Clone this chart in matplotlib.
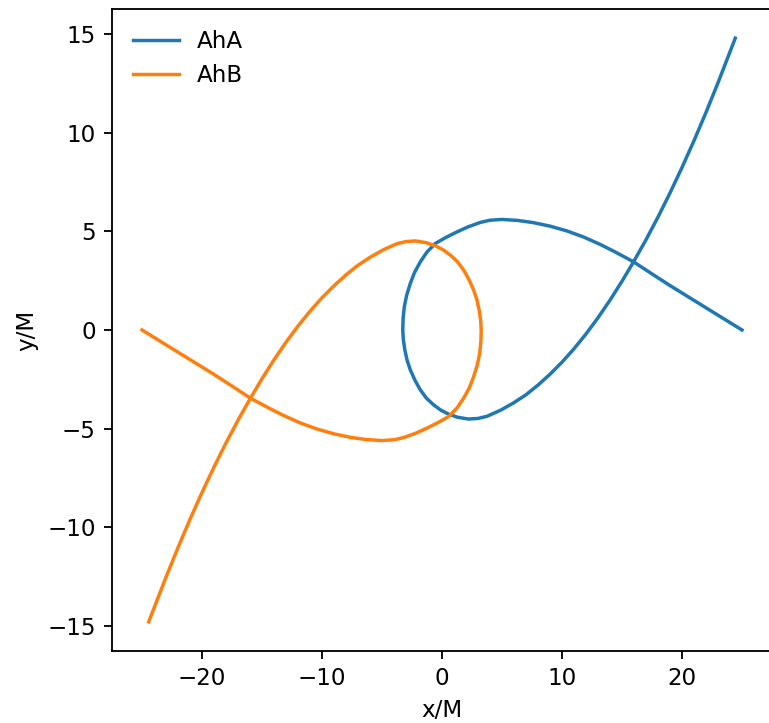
import matplotlib
matplotlib.use("Agg")
import matplotlib.pyplot as plt

# trajectory of horizon A (units of M)
aha_x = [25.0, 23.0, 21.0, 19.0, 17.5, 15.97, 14.5, 13.2, 11.8, 10.4, 9.0, 7.6,
         6.3, 5.0, 4.0, 3.2, 2.2, 1.25, 0.3, -0.56, -1.25, -1.81, -2.3, -2.64,
         -2.95, -3.14, -3.24, -3.27, -3.22, -3.1, -2.9, -2.64, -2.25, -1.81, -1.3,
         -0.7, -0.1, 0.55, 1.3, 2.2, 3.0, 3.75, 4.86, 5.97, 7.0, 8.0, 9.0, 10.0,
         11.0, 12.0, 13.0, 14.0, 15.0, 15.97, 17.0, 18.0, 19.0, 20.0,
         21.0, 22.0, 23.0, 24.0, 24.44]
aha_y = [0.0, 0.75, 1.5, 2.25, 2.84, 3.45, 3.93, 4.33, 4.71, 5.02, 5.26, 5.44,
         5.55, 5.6, 5.56, 5.45, 5.23, 4.97, 4.68, 4.38, 3.95, 3.45, 2.9, 2.36,
         1.75, 1.18, 0.6, 0.0, -0.5, -1.0, -1.55, -2.02, -2.55, -3.03, -3.45,
         -3.79, -4.06, -4.26, -4.42, -4.51, -4.48, -4.37, -4.07, -3.69, -3.28,
         -2.79, -2.24, -1.63, -0.95, -0.2, 0.62, 1.51, 2.47, 3.46, 4.57,
         5.72, 6.94, 8.23, 9.59, 11.02, 12.52, 14.09, 14.78]

# trajectory of horizon B
ahb_x = [-25.0, -23.0, -21.0, -19.0, -17.5, -15.97, -14.5, -13.2, -11.8, -10.4, -9.0, -7.6,
         -6.3, -5.0, -4.0, -3.2, -2.2, -1.25, -0.3, 0.56, 1.25, 1.81, 2.3, 2.64,
         2.95, 3.14, 3.24, 3.27, 3.22, 3.1, 2.9, 2.64, 2.25, 1.81, 1.3,
         0.7, 0.1, -0.55, -1.3, -2.2, -3.0, -3.75, -4.86, -5.97, -7.0, -8.0, -9.0, -10.0,
         -11.0, -12.0, -13.0, -14.0, -15.0, -15.97, -17.0, -18.0, -19.0, -20.0,
         -21.0, -22.0, -23.0, -24.0, -24.44]
ahb_y = [0.0, -0.75, -1.5, -2.25, -2.84, -3.45, -3.93, -4.33, -4.71, -5.02, -5.26, -5.44,
         -5.55, -5.6, -5.56, -5.45, -5.23, -4.97, -4.68, -4.38, -3.95, -3.45, -2.9, -2.36,
         -1.75, -1.18, -0.6, 0.0, 0.5, 1.0, 1.55, 2.02, 2.55, 3.03, 3.45,
         3.79, 4.06, 4.26, 4.42, 4.51, 4.48, 4.37, 4.07, 3.69, 3.28,
         2.79, 2.24, 1.63, 0.95, 0.2, -0.62, -1.51, -2.47, -3.46, -4.57,
         -5.72, -6.94, -8.23, -9.59, -11.02, -12.52, -14.09, -14.78]

s = 1.66  # overall scale of the original rendering
plt.rcParams.update({
    'font.size': 10 * s,
    'axes.linewidth': 0.8 * s,
    'xtick.major.size': 3.5 * s,
    'ytick.major.size': 3.5 * s,
    'xtick.major.width': 0.8 * s,
    'ytick.major.width': 0.8 * s,
    'xtick.major.pad': 3.5 * s,
    'ytick.major.pad': 3.5 * s,
    'axes.labelpad': 4.0 * s,
})

fig = plt.figure(figsize=(7.69, 7.23), dpi=100)
ax = fig.add_axes([112 / 769, 72 / 723, 660 / 769, 642 / 723])

ax.plot(aha_x, aha_y, label="AhA", lw=1.5 * s)
ax.plot(ahb_x, ahb_y, label="AhB", lw=1.5 * s)

ax.set_xticks([-20, -10, 0, 10, 20])
ax.set_yticks([-15, -10, -5, 0, 5, 10, 15])
ax.set_xlabel('x/M')
ax.set_ylabel('y/M')
ax.legend(loc='upper left', frameon=False)

fig.savefig("out.png", dpi=100)
